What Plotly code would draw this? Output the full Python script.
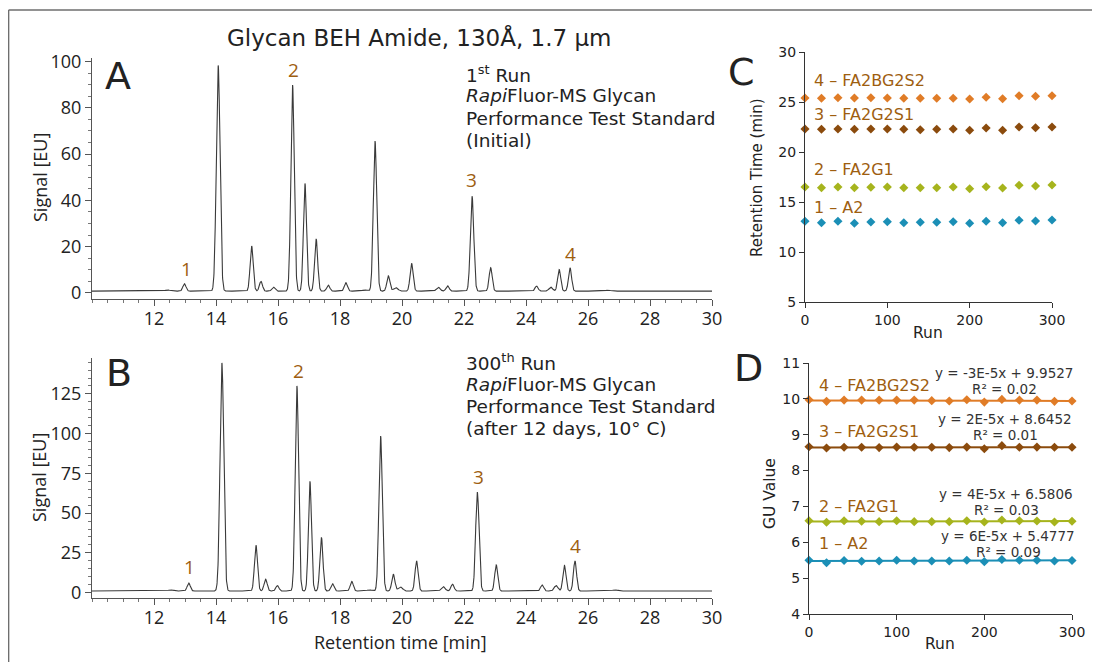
import numpy as np
import plotly.graph_objects as go

# ---------------- data ----------------
# Chromatogram peak tables (retention time [min], height [EU], width sigma [min])
peak_rt_1st = [12.44, 12.98, 14.07, 15.15, 15.45, 15.85, 16.47, 16.87, 17.23, 17.62, 18.19, 18.8,
               19.13, 19.56, 19.8, 20.31, 21.17, 21.47, 22.26, 22.86, 24.34, 24.8, 25.07, 25.42, 26.65]
peak_h_1st = [0.5, 3.2, 97.5, 19.5, 4.2, 1.8, 89.0, 46.5, 22.6, 2.6, 3.6, 0.5,
              64.8, 6.6, 1.5, 12.0, 1.7, 2.3, 41.0, 10.1, 2.2, 1.7, 9.3, 10.1, 0.4]
peak_sd_1st = [0.08, 0.05, 0.06, 0.05, 0.05, 0.05, 0.055, 0.05, 0.05, 0.05, 0.05, 0.08,
               0.055, 0.05, 0.07, 0.05, 0.06, 0.05, 0.055, 0.05, 0.05, 0.06, 0.05, 0.05, 0.08]
baseline_1st = 0.8

peak_rt_300 = [12.54, 13.12, 14.19, 15.29, 15.6, 15.98, 16.61, 17.03, 17.4, 17.76, 18.38, 18.95,
               19.31, 19.72, 19.95, 20.47, 21.33, 21.63, 22.43, 23.04, 24.52, 24.97, 25.24, 25.58, 26.87]
peak_h_300 = [0.7, 5.0, 143.5, 28.8, 7.4, 3.4, 129.0, 69.0, 33.8, 4.6, 6.0, 0.7,
              97.5, 10.6, 2.5, 18.9, 2.8, 4.3, 62.2, 16.4, 3.8, 3.4, 16.0, 18.9, 0.7]
peak_sd_300 = peak_sd_1st
baseline_300 = 1.0

# Panel C / D: run number and per-glycan values
runs = [0, 20, 40, 60, 80, 100, 120, 140, 160, 180, 200, 220, 240, 260, 280, 300]
glycans = ["1 – A2", "2 – FA2G1", "3 – FA2G2S1", "4 – FA2BG2S2"]
glycan_colors = ["#1b8fb6", "#a6b41d", "#8b4b0d", "#e07c27"]

rt_a2 = [13.07, 12.93, 13.07, 12.87, 13.0, 13.03, 12.93, 12.97, 12.97, 13.03, 12.87, 13.07, 12.93, 13.17, 13.1, 13.2]
rt_fa2g1 = [16.5, 16.43, 16.5, 16.43, 16.47, 16.5, 16.43, 16.43, 16.43, 16.5, 16.33, 16.53, 16.4, 16.67, 16.6, 16.7]
rt_fa2g2s1 = [22.3, 22.27, 22.3, 22.27, 22.3, 22.3, 22.27, 22.23, 22.27, 22.3, 22.17, 22.4, 22.17, 22.5, 22.43, 22.5]
rt_fa2bg2s2 = [25.4, 25.37, 25.43, 25.4, 25.43, 25.4, 25.37, 25.37, 25.37, 25.37, 25.3, 25.47, 25.33, 25.63, 25.57, 25.63]

gu_a2 = [5.50, 5.43, 5.49, 5.47, 5.48, 5.50, 5.48, 5.48, 5.48, 5.50, 5.46, 5.52, 5.50, 5.50, 5.48, 5.49]
gu_fa2g1 = [6.60, 6.56, 6.60, 6.585, 6.575, 6.60, 6.575, 6.575, 6.575, 6.60, 6.565, 6.62, 6.60, 6.595, 6.565, 6.585]
gu_fa2g2s1 = [8.665, 8.63, 8.65, 8.65, 8.64, 8.655, 8.65, 8.65, 8.64, 8.655, 8.61, 8.695, 8.65, 8.655, 8.65, 8.65]
gu_fa2bg2s2 = [9.975, 9.93, 9.965, 9.965, 9.965, 9.965, 9.965, 9.95, 9.94, 9.975, 9.91, 9.985, 9.965, 9.965, 9.93, 9.94]

trend_slope = [6e-5, 4e-5, 2e-5, -3e-5]
trend_intercept = [5.4777, 6.5806, 8.6452, 9.9527]
trend_eq_text = ["y = 6E-5x + 5.4777", "y = 4E-5x + 6.5806", "y = 2E-5x + 8.6452", "y = -3E-5x + 9.9527"]
trend_r2_text = ["R² = 0.09", "R² = 0.03", "R² = 0.01", "R² = 0.02"]

rt_series = [rt_a2, rt_fa2g1, rt_fa2g2s1, rt_fa2bg2s2]
gu_series = [gu_a2, gu_fa2g1, gu_fa2g2s1, gu_fa2bg2s2]

# ---------------- helpers ----------------
OX, OY = 8, 8   # page body margin offset of the plot div
W, H = 1100 - OX, 662 - OY
def px(x):
    return (x - OX) / W
def py(y):
    return 1 - (y - OY) / H

def chrom(t, rts, hs, sds, base):
    s = np.full_like(t, base)
    for r, h, sd in zip(rts, hs, sds):
        s += h * np.exp(-0.5 * ((t - r) / sd) ** 2)
    return s

t = np.linspace(10, 30, 4001)
sig1 = chrom(t, peak_rt_1st, peak_h_1st, peak_sd_1st, baseline_1st)
sig300 = chrom(t, peak_rt_300, peak_h_300, peak_sd_300, baseline_300)

fig = go.Figure()
fig.add_trace(go.Scatter(x=t, y=sig1, mode="lines", line=dict(color="#3a3a3a", width=1.1),
                         xaxis="x", yaxis="y", showlegend=False, hoverinfo="skip"))
fig.add_trace(go.Scatter(x=t, y=sig300, mode="lines", line=dict(color="#3a3a3a", width=1.1),
                         xaxis="x2", yaxis="y2", showlegend=False, hoverinfo="skip"))

for i in range(4):
    fig.add_trace(go.Scatter(x=runs, y=rt_series[i], mode="markers",
                             marker=dict(symbol="diamond", size=7, color=glycan_colors[i]),
                             xaxis="x3", yaxis="y3", showlegend=False, cliponaxis=False))
for i in range(4):
    trend = [trend_slope[i] * r + trend_intercept[i] for r in runs]
    fig.add_trace(go.Scatter(x=runs, y=trend, mode="lines",
                             line=dict(color=glycan_colors[i], width=2),
                             xaxis="x4", yaxis="y4", showlegend=False, cliponaxis=False))
    fig.add_trace(go.Scatter(x=runs, y=gu_series[i], mode="markers",
                             marker=dict(symbol="diamond", size=7, color=glycan_colors[i]),
                             xaxis="x4", yaxis="y4", showlegend=False, cliponaxis=False))

ab_tick_font = dict(family="Open Sans", size=18, color="#222222")
cd_tick_font = dict(family="DejaVu Sans", size=14, color="#222222")

def chrom_xaxis(anchor):
    return dict(domain=[px(92), px(712)], range=[10, 30], anchor=anchor, automargin=False,
                showline=True, linecolor="#555555", linewidth=1, showgrid=False, zeroline=False,
                tickvals=[12, 14, 16, 18, 20, 22, 24, 26, 28, 30], ticks="outside", ticklen=6,
                tickcolor="#555555", tickfont=ab_tick_font, ticklabelstandoff=-3,
                minor=dict(dtick=0.5, tick0=10, ticks="outside", ticklen=3, tickcolor="#777777"))

def chrom_yaxis(anchor, dom, rng, dt):
    return dict(domain=dom, range=rng, anchor=anchor, automargin=False,
                showline=True, linecolor="#555555", linewidth=1, showgrid=False, zeroline=False,
                dtick=dt, tick0=0, ticks="outside", ticklen=6, tickcolor="#555555", tickfont=ab_tick_font,
                minor=dict(dtick=5, tick0=0, ticks="outside", ticklen=3, tickcolor="#777777"))

def small_axis(anchor, dom, rng, dt):
    return dict(domain=dom, range=rng, anchor=anchor, automargin=False,
                showline=True, linecolor="#333333", linewidth=1, showgrid=False, zeroline=False,
                dtick=dt, tick0=rng[0], ticks="outside", ticklen=5, tickcolor="#333333",
                tickfont=cd_tick_font)

layout = dict(
    width=W, height=H, autosize=False,
    margin=dict(l=0, r=0, t=0, b=0, pad=0, autoexpand=False),
    paper_bgcolor="white", plot_bgcolor="white", showlegend=False,
    xaxis=chrom_xaxis("y"),
    yaxis=chrom_yaxis("x", [py(299), py(58)], [-2.6, 101.5], 20),
    xaxis2=chrom_xaxis("y2"),
    yaxis2=chrom_yaxis("x2", [py(598), py(358)], [-3.4, 147.6], 25),
    xaxis3=small_axis("y3", [px(805), px(1052)], [0, 300], 100),
    yaxis3=small_axis("x3", [py(302), py(52)], [5, 30], 5),
    xaxis4=small_axis("y4", [px(809), px(1072)], [0, 300], 100),
    yaxis4=small_axis("x4", [py(614), py(363)], [4, 11], 1),
)
fig.update_layout(**layout)

ann = []
def text(x, y, s, size, family="DejaVu Sans", color="#222222", xanchor="left", angle=0):
    ann.append(dict(x=px(x), y=py(y), xref="paper", yref="paper", text=s, showarrow=False,
                    xanchor=xanchor, yanchor="middle", textangle=angle, borderpad=0,
                    font=dict(family=family, size=size, color=color)))

brown = "#9e5e10"
# title and panel letters
text(419, 38, "Glycan BEH Amide, 130Å, 1.7 µm", 23, xanchor="center")
text(104, 76, "A", 38)
text(105, 373, "B", 38)
text(727, 72, "C", 38)
text(733, 368, "D", 38)

# panel A / B descriptions
linesA = ["1<sup>st</sup> Run", "<i>Rapi</i>Fluor-MS Glycan", "Performance Test Standard", "(Initial)"]
linesB = ["300<sup>th</sup> Run", "<i>Rapi</i>Fluor-MS Glycan", "Performance Test Standard", "(after 12 days, 10° C)"]
for k, s in enumerate(linesA):
    text(465, 74 + 22 * k, s, 18.5)
for k, s in enumerate(linesB):
    text(465, 362 + 22 * k, s, 18.5)

# peak labels
for (x, y, s) in [(186, 269, "1"), (293, 70, "2"), (471, 180, "3"), (570, 254, "4"),
                  (189, 567, "1"), (298, 371, "2"), (478, 477, "3"), (575, 546, "4")]:
    text(x, y, s, 19, family="Open Sans", color=brown, xanchor="center")

# axis titles
text(40, 178, "Signal [EU]", 18, family="Open Sans", xanchor="center", angle=-90)
text(39, 478, "Signal [EU]", 18, family="Open Sans", xanchor="center", angle=-90)
text(400, 642, "Retention time [min]", 18, family="Open Sans", xanchor="center")
text(757, 178, "Retention Time (min)", 15, xanchor="center", angle=-90)
text(928, 333, "Run", 15.5, xanchor="center")
text(770, 494, "GU Value", 15.5, xanchor="center", angle=-90)
text(940, 644, "Run", 15.5, xanchor="center")

# glycan labels C
for (y, i) in [(81, 3), (115, 2), (169, 1), (207, 0)]:
    text(813, y, glycans[i], 16, color=brown)
# glycan labels D
for (y, i) in [(385, 3), (431, 2), (506, 1), (543, 0)]:
    text(818, y, glycans[i], 16, color=brown)
# trend equations D
for (xc, ye, yr, i) in [(1004, 373, 389, 3), (1005, 419, 435, 2), (1006, 494, 510, 1), (1008, 536, 552, 0)]:
    text(xc, ye, trend_eq_text[i], 13.5, xanchor="center", color="#333333")
    text(xc, yr, trend_r2_text[i], 13.5, xanchor="center", color="#333333")

fig.update_layout(annotations=ann)

# outer frame (top and left edges)
fig.update_layout(shapes=[
    dict(type="line", xref="paper", yref="paper", x0=px(8.6), x1=1, y0=py(10), y1=py(10),
         line=dict(color="#6e6e6e", width=1.5)),
    dict(type="line", xref="paper", yref="paper", x0=px(8.6), x1=px(8.6), y0=py(10), y1=0,
         line=dict(color="#6e6e6e", width=1.5)),
])

fig.write_html("out.html", config={"displayModeBar": False})
